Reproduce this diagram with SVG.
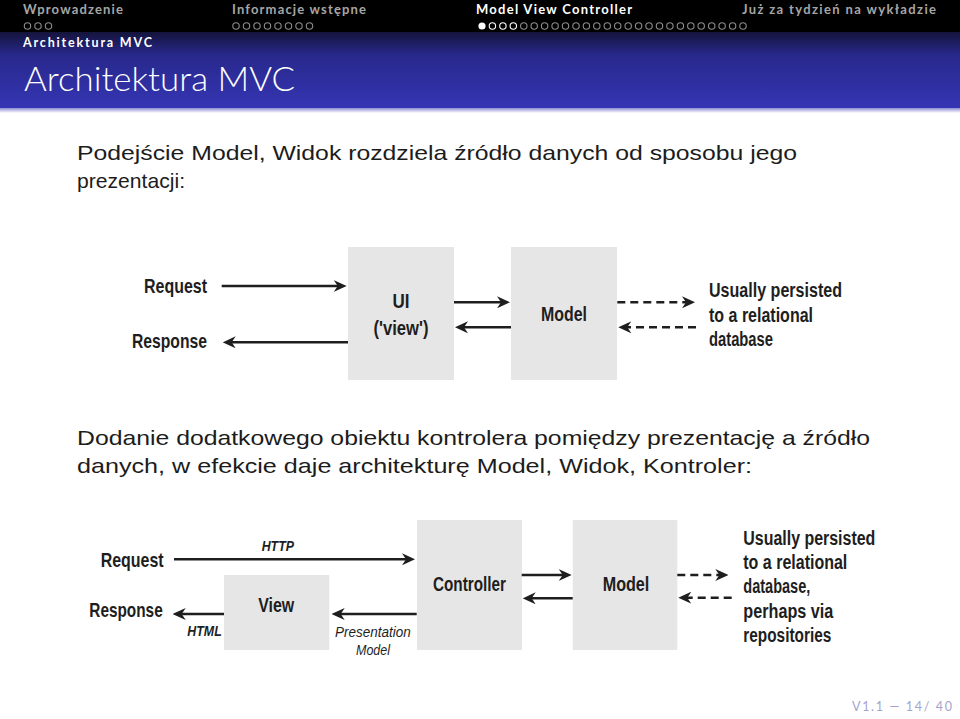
<svg xmlns="http://www.w3.org/2000/svg" width="960" height="719" viewBox="0 0 960 719">
<defs>
<linearGradient id="bar" x1="0" y1="0" x2="0" y2="1">
<stop offset="0" stop-color="#14143c"/>
<stop offset="0.3" stop-color="#28288c"/>
<stop offset="1" stop-color="#3535b4"/>
</linearGradient>
<linearGradient id="shadow" x1="0" y1="0" x2="0" y2="1">
<stop offset="0" stop-color="#8c8cd4"/>
<stop offset="1" stop-color="#ffffff"/>
</linearGradient>
<marker id="ah" viewBox="0 0 13 12" refX="5" refY="6" markerWidth="13" markerHeight="12" markerUnits="userSpaceOnUse" orient="auto">
<path d="M0,0 L13,6 L0,12 L4,6 z" fill="#1e1e1e"/>
</marker>
<style>
.hd{font-family:Lato,"Open Sans","DejaVu Sans",sans-serif;font-weight:bold;font-size:13px}
.off{fill:#a6a6a6}
.on{fill:#ffffff}
.dot{fill:none;stroke:#8c8c8c;stroke-width:1.1}
.dotw{fill:none;stroke:#ffffff;stroke-width:1.1}
.body{font-family:"Liberation Sans","DejaVu Sans",sans-serif;font-size:21px;fill:#1c1c1c}
.box{fill:#e6e6e6}
.lbl{font-family:"Liberation Sans",Arial,sans-serif;font-weight:bold;font-size:20.5px;fill:#1e1e1e}
.db{font-size:20px}
.ital{font-family:"Liberation Sans",Arial,sans-serif;font-style:italic;font-size:15px;fill:#1e1e1e}
.ln{stroke:#1e1e1e;stroke-width:2.6;fill:none}
.dash{stroke:#1e1e1e;stroke-width:2.4;fill:none;stroke-dasharray:8 5}
</style>
</defs>
<rect width="960" height="719" fill="#ffffff"/>
<!-- header -->
<rect x="0" y="0" width="960" height="33" fill="#000000"/>
<rect x="0" y="32" width="960" height="76" fill="url(#bar)"/>
<rect x="0" y="108" width="960" height="5" fill="url(#shadow)"/>
<g id="nav">
<text class="hd off" x="23" y="14" textLength="100" lengthAdjust="spacing">Wprowadzenie</text>
<text class="hd off" x="232" y="14" textLength="134" lengthAdjust="spacing">Informacje wstępne</text>
<text class="hd on" x="476" y="14" textLength="156" lengthAdjust="spacing">Model View Controller</text>
<text class="hd off" x="742" y="14" textLength="194" lengthAdjust="spacing">Już za tydzień na wykładzie</text>
<g class="dot">
<circle cx="27.5" cy="26" r="3.2"/><circle cx="38" cy="26" r="3.2"/><circle cx="48.5" cy="26" r="3.2"/>
<circle cx="236" cy="26" r="3.2"/><circle cx="246.5" cy="26" r="3.2"/><circle cx="257" cy="26" r="3.2"/><circle cx="267.5" cy="26" r="3.2"/><circle cx="278" cy="26" r="3.2"/><circle cx="288.5" cy="26" r="3.2"/><circle cx="299" cy="26" r="3.2"/><circle cx="309.5" cy="26" r="3.2"/>
</g>
<circle cx="482" cy="26" r="3.6" fill="#ffffff"/>
<g class="dotw">
<circle cx="492.4" cy="26" r="3.2"/><circle cx="502.9" cy="26" r="3.2"/><circle cx="513.3" cy="26" r="3.2"/>
</g>
<g class="dot">
<circle cx="523.8" cy="26" r="3.2"/><circle cx="534.2" cy="26" r="3.2"/><circle cx="544.6" cy="26" r="3.2"/><circle cx="555.1" cy="26" r="3.2"/><circle cx="565.5" cy="26" r="3.2"/><circle cx="576" cy="26" r="3.2"/><circle cx="586.4" cy="26" r="3.2"/><circle cx="596.8" cy="26" r="3.2"/><circle cx="607.3" cy="26" r="3.2"/><circle cx="617.7" cy="26" r="3.2"/><circle cx="628.2" cy="26" r="3.2"/><circle cx="638.6" cy="26" r="3.2"/><circle cx="649" cy="26" r="3.2"/><circle cx="659.5" cy="26" r="3.2"/><circle cx="669.9" cy="26" r="3.2"/><circle cx="680.4" cy="26" r="3.2"/><circle cx="690.8" cy="26" r="3.2"/><circle cx="701.2" cy="26" r="3.2"/><circle cx="711.7" cy="26" r="3.2"/><circle cx="722.1" cy="26" r="3.2"/><circle cx="732.6" cy="26" r="3.2"/><circle cx="743" cy="26" r="3.2"/>
</g>
<text class="hd on" x="23" y="47" style="font-size:12.5px" textLength="129" lengthAdjust="spacing">Architektura MVC</text>
</g>
<text id="title" x="24" y="91" font-family="Lato,'Open Sans',sans-serif" font-weight="300" font-size="34" fill="#ffffff" textLength="271" lengthAdjust="spacingAndGlyphs">Architektura MVC</text>
<!-- body text -->
<text class="body" x="77" y="160" textLength="720" lengthAdjust="spacingAndGlyphs">Podejście Model, Widok rozdziela źródło danych od sposobu jego</text>
<text class="body" x="77" y="188" textLength="108" lengthAdjust="spacingAndGlyphs">prezentacji:</text>
<text class="body" x="77" y="445" textLength="793" lengthAdjust="spacingAndGlyphs">Dodanie dodatkowego obiektu kontrolera pomiędzy prezentację a źródło</text>
<text class="body" x="77" y="473" textLength="675" lengthAdjust="spacingAndGlyphs">danych, w efekcie daje architekturę Model, Widok, Kontroler:</text>

<!-- diagram 1 -->
<g id="d1-ui"><rect class="box" x="348" y="247" width="106" height="133"/>
<text class="lbl" x="401" y="308" text-anchor="middle" textLength="17" lengthAdjust="spacingAndGlyphs">UI</text>
<text class="lbl" x="401" y="334.5" text-anchor="middle" textLength="55" lengthAdjust="spacingAndGlyphs">('view')</text></g>
<g id="d1-model"><rect class="box" x="511" y="247" width="106" height="133"/>
<text class="lbl" x="564" y="321" text-anchor="middle" textLength="46" lengthAdjust="spacingAndGlyphs">Model</text></g>
<g id="d1-request"><text class="lbl" x="144" y="293" textLength="63" lengthAdjust="spacingAndGlyphs">Request</text></g>
<g id="d1-response"><text class="lbl" x="132" y="348" textLength="75" lengthAdjust="spacingAndGlyphs">Response</text></g>
<g id="d1-db"><g class="lbl db">
<text x="709" y="297" textLength="133" lengthAdjust="spacingAndGlyphs">Usually persisted</text>
<text x="709" y="321.5" textLength="104" lengthAdjust="spacingAndGlyphs">to a relational</text>
<text x="709" y="346" textLength="64" lengthAdjust="spacingAndGlyphs">database</text></g></g>
<g id="d1-connectors">
<path class="ln" d="M221.7,286 H338.7" marker-end="url(#ah)"/>
<path class="ln" d="M348,342.3 H230.7" marker-end="url(#ah)"/>
<path class="ln" d="M454,302.3 H502" marker-end="url(#ah)"/>
<path class="ln" d="M511,327.3 H463" marker-end="url(#ah)"/>
<path class="dash" d="M617.3,302.3 H687" marker-end="url(#ah)"/>
<path class="dash" d="M696,327.3 H626.3" marker-end="url(#ah)"/>
</g>

<!-- diagram 2 -->
<g id="d2-controller"><rect class="box" x="417" y="520" width="105" height="130"/>
<text class="lbl" x="469.5" y="591" text-anchor="middle" textLength="73" lengthAdjust="spacingAndGlyphs">Controller</text></g>
<g id="d2-model"><rect class="box" x="572.7" y="520" width="104.6" height="130"/>
<text class="lbl" x="626" y="591" text-anchor="middle" textLength="46.6" lengthAdjust="spacingAndGlyphs">Model</text></g>
<g id="d2-view"><rect class="box" x="224" y="575" width="105.3" height="75"/>
<text class="lbl" x="276.2" y="611.7" text-anchor="middle" textLength="36" lengthAdjust="spacingAndGlyphs">View</text></g>
<g id="d2-request"><text class="lbl" x="100.7" y="566.5" textLength="63" lengthAdjust="spacingAndGlyphs">Request</text></g>
<g id="d2-response"><text class="lbl" x="89.3" y="616.5" textLength="73.4" lengthAdjust="spacingAndGlyphs">Response</text></g>
<g id="d2-db"><g class="lbl db">
<text x="743.3" y="545" textLength="132" lengthAdjust="spacingAndGlyphs">Usually persisted</text>
<text x="743.3" y="569" textLength="104" lengthAdjust="spacingAndGlyphs">to a relational</text>
<text x="743.3" y="593.3" textLength="67" lengthAdjust="spacingAndGlyphs">database,</text>
<text x="743.3" y="617.7" textLength="90" lengthAdjust="spacingAndGlyphs">perhaps via</text>
<text x="743.3" y="641.7" textLength="88" lengthAdjust="spacingAndGlyphs">repositories</text></g></g>
<g id="d2-connectors">
<path class="ln" d="M174,559.3 H407" marker-end="url(#ah)"/>
<path class="ln" d="M224,614 H180.7" marker-end="url(#ah)"/>
<path class="ln" d="M416.7,614 H339.7" marker-end="url(#ah)"/>
<path class="ln" d="M521.7,575 H563.7" marker-end="url(#ah)"/>
<path class="ln" d="M572.7,598.3 H530.7" marker-end="url(#ah)"/>
<path class="dash" d="M677.3,575 H720.3" marker-end="url(#ah)"/>
<path class="dash" d="M731.7,597.7 H686.3" marker-end="url(#ah)"/>
<text class="ital" x="261.7" y="551" font-weight="bold" textLength="32.3" lengthAdjust="spacingAndGlyphs">HTTP</text>
<text class="ital" x="187.3" y="635.7" font-weight="bold" textLength="34.4" lengthAdjust="spacingAndGlyphs">HTML</text>
<text class="ital" x="335" y="637.3" textLength="75.7" lengthAdjust="spacingAndGlyphs">Presentation</text>
<text class="ital" x="356" y="655" textLength="34" lengthAdjust="spacingAndGlyphs">Model</text>
</g>

<!-- footer -->
<text id="footer" x="852" y="711" font-family="Lato,'DejaVu Sans',sans-serif" font-size="12.5" fill="#a4a4cc" textLength="100" lengthAdjust="spacing">V1.1 — 14/ 40</text>
</svg>
